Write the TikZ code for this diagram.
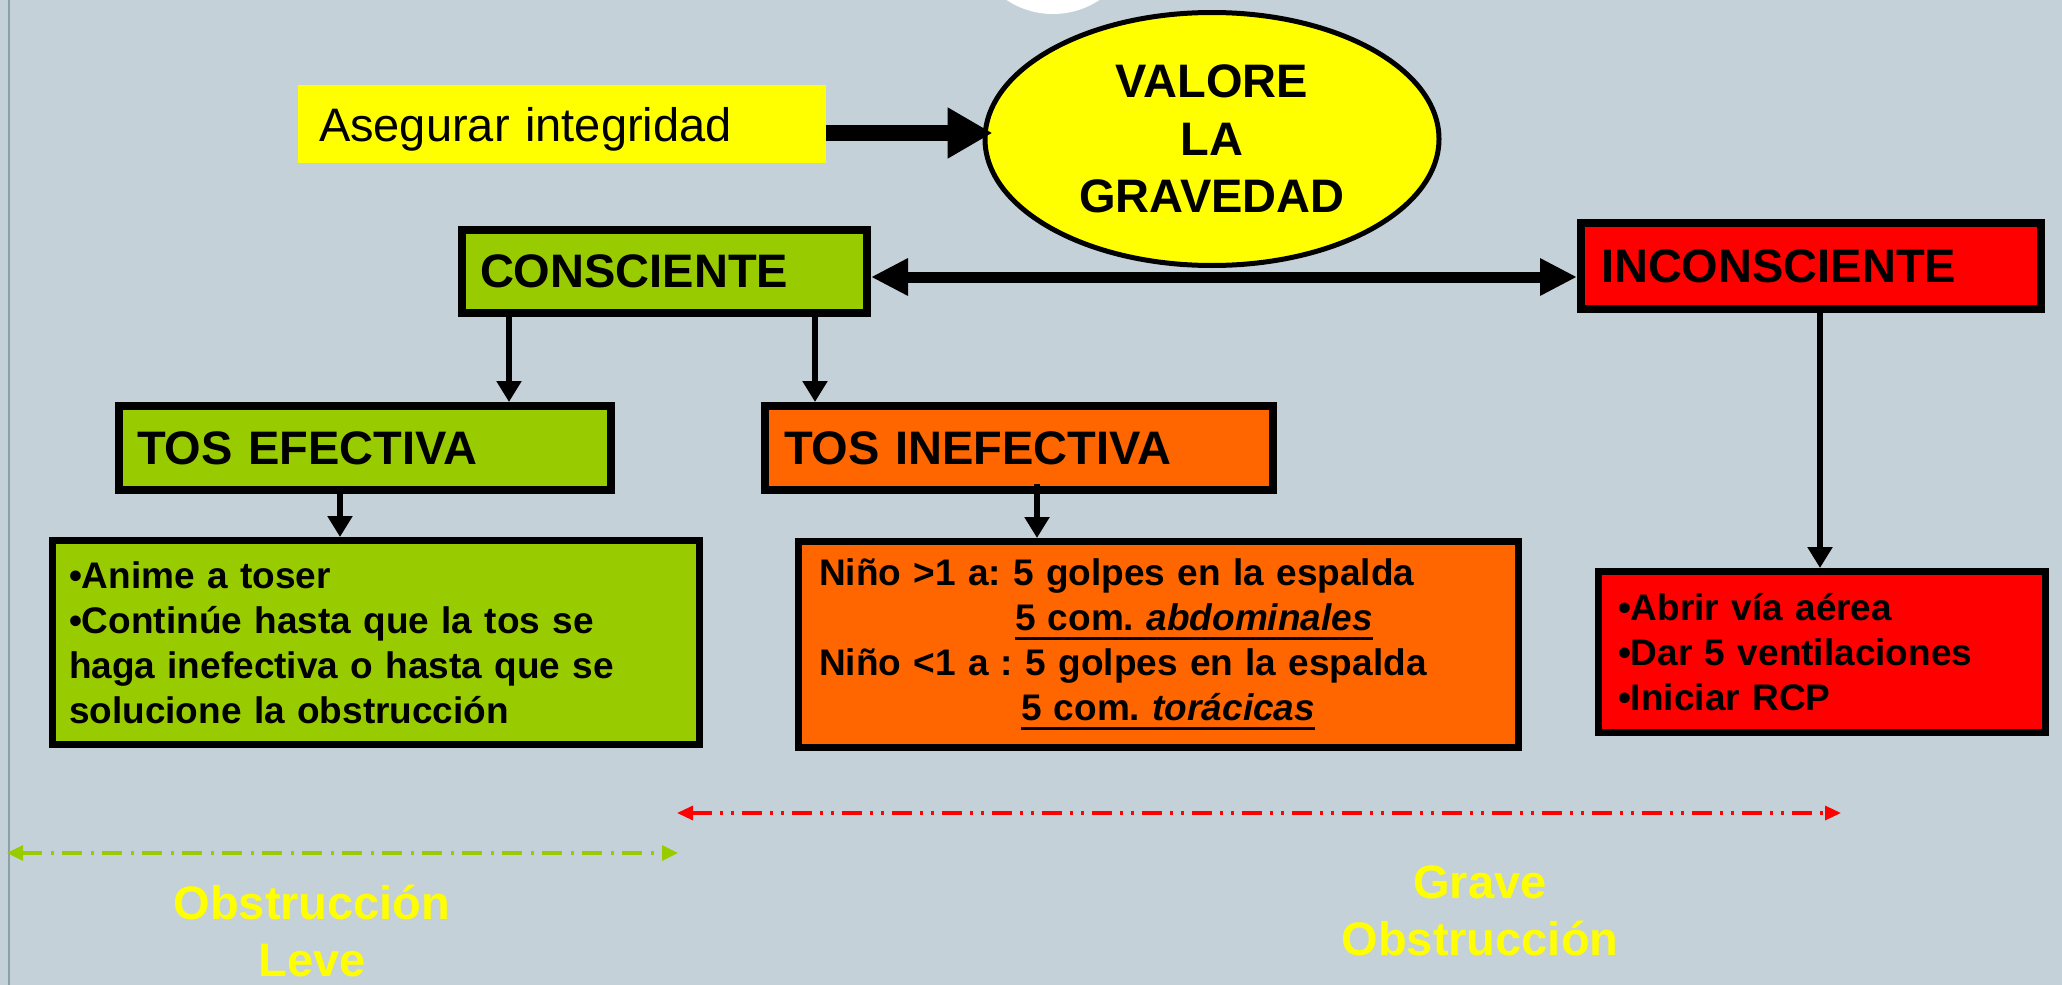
\documentclass[tikz,border=0pt]{standalone}
\usepackage{fontspec}
\setmainfont{Liberation Sans}
\usetikzlibrary{arrows.meta,shapes.geometric}
\definecolor{bgc}{RGB}{197,209,216}
\definecolor{edge}{RGB}{140,160,166}
\definecolor{yel}{RGB}{255,255,0}
\definecolor{grn}{RGB}{153,204,0}
\definecolor{org}{RGB}{255,102,0}
\definecolor{rd}{RGB}{255,0,0}
\frenchspacing
\newcommand\hfont{\fontsize{23.5pt}{28.75pt}\selectfont\bfseries\frenchspacing}
\newcommand\lfont{\fontsize{18.5pt}{22.5pt}\selectfont\bfseries\frenchspacing}
\newsavebox\ulbox
\newcommand\myul[1]{\sbox\ulbox{#1}\rlap{\rule[-4.5pt]{\wd\ulbox}{1.5pt}}\usebox\ulbox}
\tikzset{
  hbox/.style={draw=black, line width=4pt, inner ysep=0pt, align=left, font=\hfont},
  lbox/.style={draw=black, line width=3.5pt, inner ysep=0pt, align=left, font=\lfont},
  bigarrow/.style={line width=8pt, -{Triangle[length=22.5pt,width=24pt]}},
  dblarrow/.style={line width=5.5pt, {Triangle[length=18.5pt,width=17.5pt]}-{Triangle[length=18.5pt,width=17.5pt]}},
  downarrow/.style={line width=3.2pt, -{Triangle[length=10.5pt,width=12pt]}},
  redrange/.style={draw=rd, line width=1.6pt, dash pattern=on 10pt off 4pt on 1.5pt off 4pt on 1.5pt off 4pt, {Triangle[length=8pt,width=7pt]}-{Triangle[length=8pt,width=7pt]}},
  greenrange/.style={draw=grn, line width=1.6pt, dash pattern=on 10pt off 4.25pt on 1.5pt off 4.25pt, {Triangle[length=8pt,width=7.5pt]}-{Triangle[length=8pt,width=7.5pt]}},
  lbl/.style={text=yel, align=center, font=\hfont, inner sep=0pt}
}
\begin{document}
\begin{tikzpicture}[x=0.5pt,y=-0.5pt]
\useasboundingbox (0,0) rectangle (2062,985);
\clip (0,0) rectangle (2062,985);
\fill[bgc] (0,0) rectangle (2062,985);
\fill[white] (1053,-70) circle[radius=42pt];
\draw[edge, line width=1pt] (9,0) -- (9,985);

% nodes
\node[fill=yel, minimum width=264pt, minimum height=39pt, inner xsep=10.5pt, inner ysep=0pt, text depth=0pt,
      text width=243pt, align=left, font=\fontsize{23.5pt}{28.75pt}\selectfont] (aseg) at (562,124) {Asegurar integridad};
\node[ellipse, draw=black, line width=2.5pt, fill=yel, minimum width=227pt, minimum height=126.5pt,
      inner sep=0pt, align=center, font=\hfont] (valore) at (1212,139) {VALORE\\LA\\GRAVEDAD};
\node[hbox, fill=grn, minimum width=202.5pt, minimum height=41.5pt, inner xsep=9pt, text width=184.5pt] (cons) at (664.5,271.5) {CONSCIENTE};
\node[hbox, fill=rd, minimum width=230pt, minimum height=43pt, inner xsep=10pt, text width=210pt] (incons) at (1811,266) {INCONSCIENTE};
\node[hbox, fill=grn, minimum width=246pt, minimum height=42pt, inner xsep=9pt, text width=228pt] (tosef) at (365,448) {TOS EFECTIVA};
\node[hbox, fill=org, minimum width=254pt, minimum height=42pt, inner xsep=9.5pt, text width=235pt] (tosin) at (1019,448) {TOS INEFECTIVA};
\node[lbox, fill=grn, minimum width=323.5pt, minimum height=102pt, inner xsep=8.25pt, text width=307pt] (listef) at (376,642.5)
  {•Anime a toser\\•Continúe hasta que la tos se\\haga inefectiva o hasta que se\\solucione la obstrucción};
\node[lbox, fill=org, minimum width=360pt, minimum height=103pt, inner xsep=10.25pt, text width=339.5pt] (listin) at (1158.5,644.5)
  {Niño >1 a: 5 golpes en la espalda\\\hspace*{98pt}\myul{5 com. \textit{abdominales}}\\Niño <1 a : 5 golpes en la espalda\\\hspace*{101pt}\myul{5 com. \textit{torácicas}}};
\node[lbox, fill=rd, minimum width=223.5pt, minimum height=80.5pt, inner xsep=9.75pt, text width=204pt] (listrcp) at (1822,652)
  {•Abrir vía aérea\\•Dar 5 ventilaciones\\•Iniciar RCP};

\node[lbl] (leve) at (312,931) {Obstrucción\\Leve};
\node[lbl] (grave) at (1480,911) {Grave\\Obstrucción};

% connectors
\coordinate (a1) at ([yshift=-4.5pt]aseg.east);
\draw[bigarrow, shorten >=-5pt] (a1) -- (a1 -| valore.west);
\coordinate (b1) at ([yshift=-2.75pt]cons.east);
\draw[dblarrow] (b1) -- (b1 -| incons.west);
\coordinate (c1) at ([xshift=25.5pt]cons.south west);
\draw[downarrow] (c1) -- (c1 |- tosef.north);
\coordinate (c2) at ([xshift=178.5pt]cons.south west);
\draw[downarrow] (c2) -- (c2 |- tosin.north);
\coordinate (c3) at ([xshift=112.5pt]tosef.south west);
\draw[downarrow] (c3) -- (c3 |- listef.north);
\coordinate (c4) at ([xshift=138pt,yshift=5pt]tosin.south west);
\draw[downarrow] (c4) -- (c4 |- listin.north);
\coordinate (c5) at ([xshift=121.5pt]incons.south west);
\draw[downarrow] (c5) -- (c5 |- listrcp.north);

% range arrows
\coordinate (rl) at (677,813);
\coordinate (rr) at (1841,813);
\draw[redrange] (rl) -- (rr);
\coordinate (gl) at (7,853);
\coordinate (gr) at (678,853);
\draw[greenrange] (gl) -- (gr);
\end{tikzpicture}
\end{document}
